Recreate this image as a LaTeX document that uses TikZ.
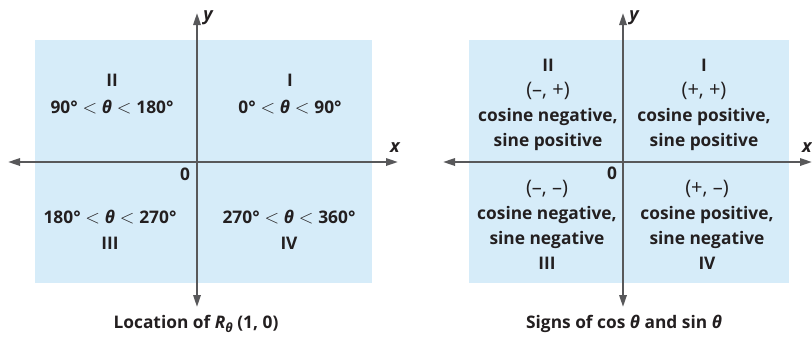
\documentclass[tikz,border=0pt]{standalone}
\usepackage{fontspec}
\setmainfont{Open Sans}
\newfontfamily\grkfont{Open Sans}
\usetikzlibrary{arrows.meta}
\definecolor{quadblue}{RGB}{214,236,249}
\definecolor{axisgray}{RGB}{88,88,90}
\definecolor{textgray}{RGB}{35,31,32}
\newcommand{\thet}{{\grkfont\bfseries\itshape θ}}
\newcommand{\lss}{\;{\fontsize{15}{15}\selectfont$<$}\;}
\newcommand{\sgn}[1]{{\fontsize{15}{15}\selectfont\mdseries#1}}

\begin{document}
\begin{tikzpicture}[x=0.75pt,y=-0.75pt, >={Triangle[length=9pt,width=5.5pt]},
  every node/.style={font=\bfseries\fontsize{13}{18.7}\selectfont, text=textgray, inner sep=0pt},
  quad/.style={align=center},
  axis/.style={axisgray, line width=1.6pt, <->},
  axlabel/.style={font=\bfseries\itshape\fontsize{13.5}{15}\selectfont}]
  \useasboundingbox (0,0) rectangle (812,337);
  % left panel: location of the point
  \fill[quadblue] (35,40) rectangle (372,283);
  \coordinate (lxw) at (8,162);  \coordinate (lxe) at (398,162);
  \coordinate (lyn) at (197,13); \coordinate (lys) at (197,307);
  \draw[axis] (lxw) -- (lxe);
  \draw[axis] (lys) -- (lyn);
  \node[axlabel, anchor=west] (ly) at (203,18) {y};
  \node[axlabel] (lx) at (395,148) {x};
  \node (lo) at (185,174) {0};
  \node[quad] (lq2) at (112,94) {II\\[1pt]90°\lss\thet\lss180°};
  \node[quad] (lq1) at (290,94) {I\\[1pt]0°\lss\thet\lss90°};
  \node[quad] (lq3) at (110,230) {180°\lss\thet\lss270°\\[1pt]III};
  \node[quad] (lq4) at (289,230) {270°\lss\thet\lss360°\\[1pt]IV};
  \node (lcap) at (196,324) {Location of \textit{R}\raisebox{-0.45ex}{\fontsize{9.5}{10}\selectfont\thet} (1, 0)};
  % right panel: signs of cos and sin
  \fill[quadblue] (469,40) rectangle (789,283);
  \coordinate (rxw) at (443,162); \coordinate (rxe) at (812,162);
  \coordinate (ryn) at (623,13);  \coordinate (rys) at (623,307);
  \draw[axis] (rxw) -- (rxe);
  \draw[axis] (rys) -- (ryn);
  \node[axlabel, anchor=west] (ry) at (629,18) {y};
  \node[axlabel, anchor=east] (rx) at (812,148) {x};
  \node (ro) at (612,173) {0};
  \node[quad] (rq2) at (548,105) {II\\\sgn{(–, +)}\\cosine negative,\\sine positive};
  \node[quad] (rq1) at (704,105) {I\\\sgn{(+, +)}\\cosine positive,\\sine positive};
  \node[quad] (rq3) at (547,225) {\sgn{(–, –)}\\cosine negative,\\sine negative\\III};
  \node[quad] (rq4) at (707,225) {\sgn{(+, –)}\\cosine positive,\\sine negative\\IV};
  \node (rcap) at (624,324) {Signs of cos \thet{} and sin \thet};
\end{tikzpicture}
\end{document}
